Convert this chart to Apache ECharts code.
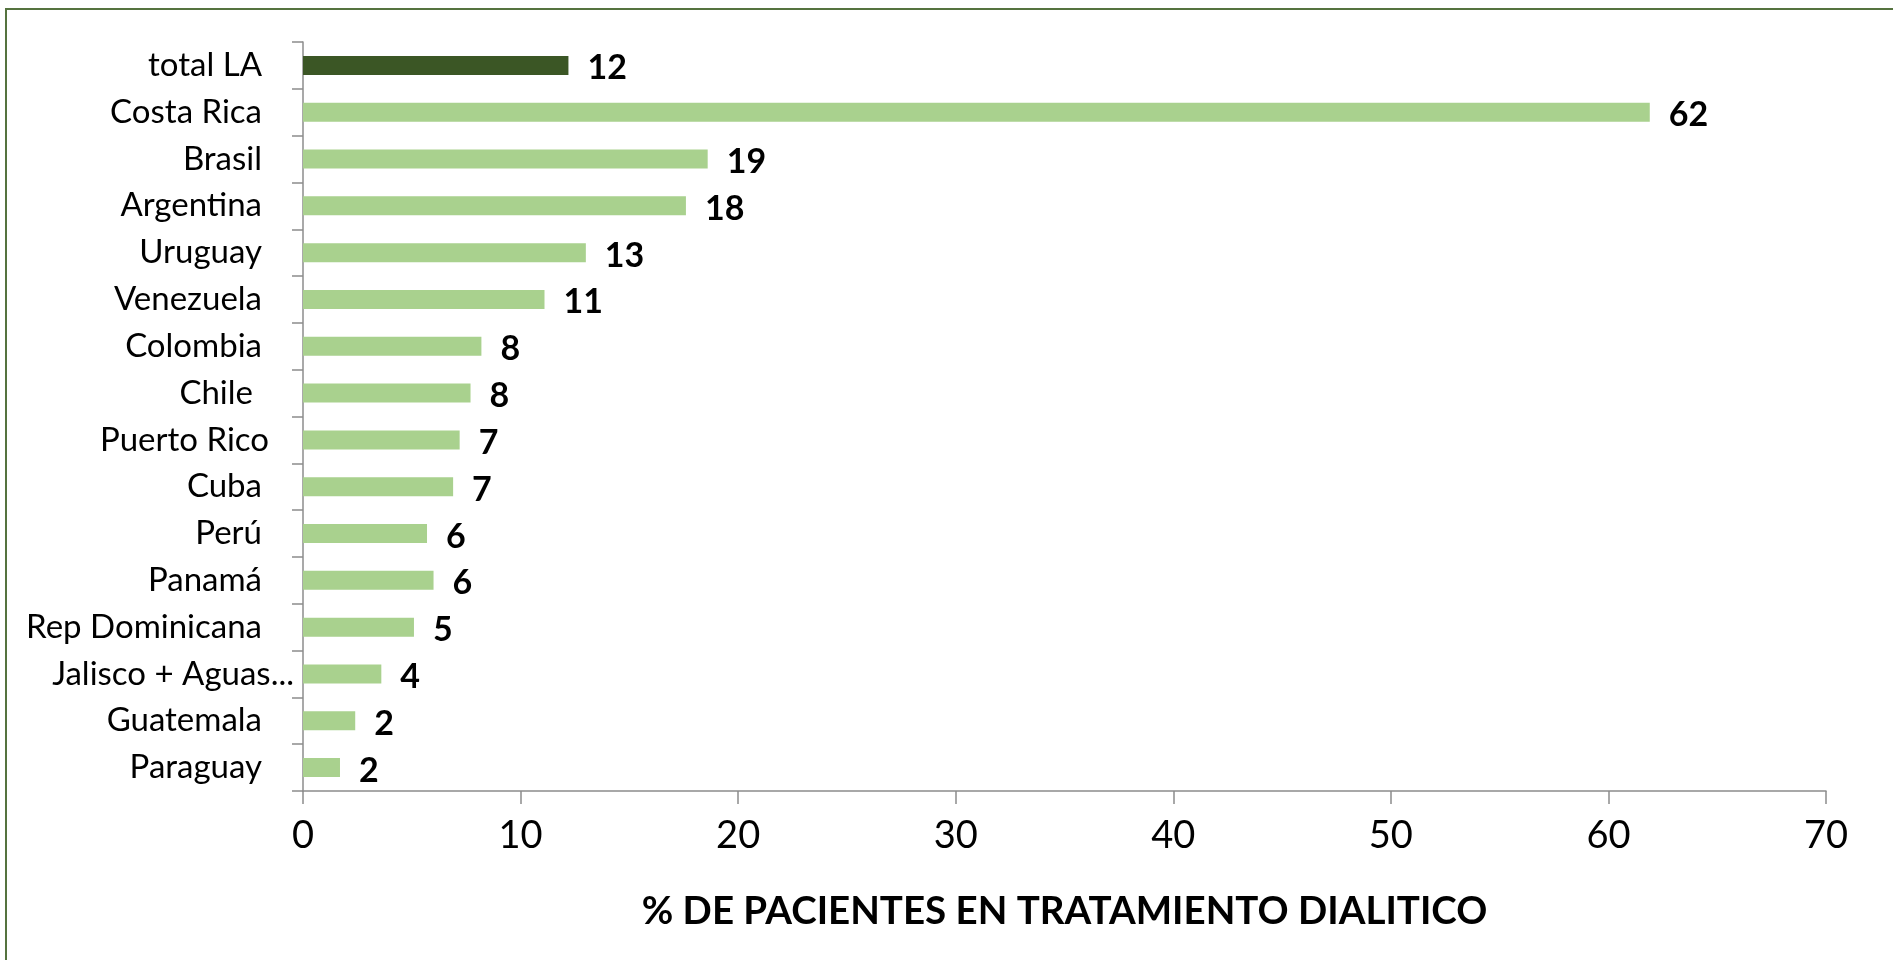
<!DOCTYPE html>
<html lang="es">
<head>
    <meta charset="utf-8">
    <title>% de pacientes en tratamiento dialitico</title>
    <script src="https://cdn.jsdelivr.net/npm/echarts@6/dist/echarts.min.js"></script>
    <style>
        html, body { margin: 0; padding: 0; background: #fff; overflow: hidden; }
        #main { position: absolute; left: 0; top: 0; width: 1893px; height: 960px; }
        .frame {
            position: absolute; left: 5px; top: 8px; right: -10px; bottom: -10px;
            border-left: 2px solid #55733f; border-top: 2px solid #55733f;
            pointer-events: none;
        }
    </style>
</head>
<body>
    <div id="main"></div>
    <div class="frame"></div>

    <script type="text/javascript">
        // categorias (de arriba hacia abajo)
        const paises = ['total LA', 'Costa Rica', 'Brasil', 'Argentina', 'Uruguay', 'Venezuela',
            'Colombia', 'Chile', 'Puerto Rico', 'Cuba', 'Perú', 'Panamá',
            'Rep Dominicana', 'Jalisco + Aguas...', 'Guatemala', 'Paraguay'];

        // % de pacientes en tratamiento dialitico
        const porcentajes = [12.2, 61.9, 18.6, 17.6, 13.0, 11.1, 8.2, 7.7, 7.2, 6.9, 5.7, 6.0, 5.1, 3.6, 2.4, 1.7];

        const ticksX = [0, 10, 20, 30, 40, 50, 60, 70];
        const tituloX = '% DE PACIENTES EN TRATAMIENTO DIALITICO';

        const verdeClaro = '#a9d18e';
        const verdeOscuro = '#3b5625';

        // pequeño ajuste de la posicion de algunas etiquetas, como en el original
        const padDerecha = { 'Chile': 41, 'Puerto Rico': 25, 'Jalisco + Aguas...': 0 };

        let chart = echarts.init(document.getElementById('main'));

        let option = {
            backgroundColor: 'transparent',
            animation: false,
            grid: {
                left: 303,
                right: 67,
                top: 42,
                bottom: 169,
                containLabel: false,
                outerBoundsMode: 'none'
            },
            xAxis: {
                type: 'value',
                min: ticksX[0],
                max: ticksX[ticksX.length - 1],
                interval: 10,
                name: tituloX,
                nameLocation: 'middle',
                nameGap: 101,
                nameTextStyle: {
                    fontFamily: 'Lato',
                    fontWeight: 'bold',
                    fontSize: 38.5,
                    color: '#000'
                },
                axisLine: { show: true, lineStyle: { color: '#8c8c8c', width: 1.5 } },
                axisTick: { show: true, length: 13, lineStyle: { color: '#8c8c8c', width: 1.5 } },
                axisLabel: {
                    margin: 26,
                    fontFamily: 'Lato',
                    fontSize: 38,
                    color: '#000'
                },
                splitLine: { show: false }
            },
            yAxis: {
                type: 'category',
                data: paises,
                inverse: true,
                axisLine: { show: true, lineStyle: { color: '#8c8c8c', width: 1.5 } },
                axisTick: { show: true, length: 11, lineStyle: { color: '#8c8c8c', width: 1.5 } },
                axisLabel: {
                    margin: 9,
                    color: '#000',
                    formatter: function (v) {
                        let p = padDerecha[v];
                        if (p === undefined) p = 32;
                        return '{a|' + v + '}{p' + p + '|}';
                    },
                    rich: {
                        a: { fontFamily: 'Lato', fontSize: 33, color: '#000' },
                        p0: { width: 0 },
                        p25: { width: 25 },
                        p32: { width: 32 },
                        p41: { width: 41 }
                    }
                },
                splitLine: { show: false }
            },
            series: [
                {
                    type: 'bar',
                    data: porcentajes.map((v, i) => ({
                        value: v,
                        itemStyle: { color: i === 0 ? verdeOscuro : verdeClaro }
                    })),
                    barWidth: 19,
                    label: {
                        show: true,
                        position: 'right',
                        distance: 19,
                        offset: [0, 3],
                        fontFamily: 'Lato',
                        fontWeight: 'bold',
                        fontSize: 34,
                        color: '#000',
                        formatter: (p) => Math.round(p.value)
                    }
                }
            ]
        };

        chart.setOption(option);
    </script>
</body>
</html>
